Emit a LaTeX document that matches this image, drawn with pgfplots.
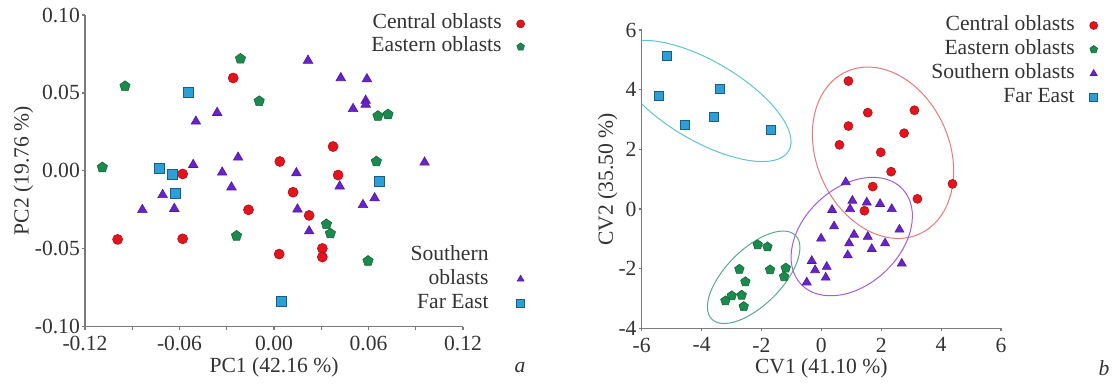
\documentclass[border=0pt]{standalone}
\usepackage{fontspec}
\setmainfont{Liberation Serif}
\usepackage{pgfplots}
\pgfplotsset{compat=1.18}
\definecolor{cred}{HTML}{E5131B}
\definecolor{cgreen}{HTML}{1B8A4D}
\definecolor{cpurple}{HTML}{6A22CF}
\definecolor{cblue}{HTML}{2C9FD8}
\definecolor{ered}{HTML}{E47A7A}
\definecolor{epurple}{HTML}{A35BE0}
\definecolor{ecyan}{HTML}{5EC3D3}
\definecolor{egreen}{HTML}{5AA888}
\definecolor{axgray}{HTML}{7A7A7A}
\definecolor{txt}{HTML}{333333}
\newcommand{\fs}{\fontsize{10.8}{13}\selectfont}
\pgfplotsset{
  myaxis/.style={
    scale only axis, anchor=south west,
    axis x line*=bottom, axis y line*=left,
    axis line style={-, draw=axgray, line width=0.6pt},
    tick align=outside, major tick length=1.6pt, minor tick length=1.6pt,
    every tick/.style={draw=axgray, line width=0.6pt},
    /pgf/number format/assume math mode=true,
    tick label style={font=\fs, text=txt},
    xticklabel style={inner sep=2.9pt},
    yticklabel style={inner sep=0.8pt},
    label style={font=\fs, text=txt, inner sep=0.5pt},
    legend style={draw=none, fill=none, font=\fs, text=txt,
      row sep=0pt, anchor=north east,
      nodes={inner sep=1pt, text height=7.6pt, text depth=2.4pt},
      /tikz/every odd column/.append style={column sep=6.5pt}},
    legend cell align=right,
    legend plot pos=right,
    legend image post style={mark size=2pt},
    enlargelimits=false,
  },
  pred/.style={only marks, mark=*, mark options={fill=cred, draw=cred!75!black, line width=0.3pt}},
  pgreen/.style={only marks, mark=pentagon*, mark options={fill=cgreen, draw=cgreen!75!black, line width=0.3pt}},
  ppurple/.style={only marks, mark=triangle*, mark options={fill=cpurple, draw=cpurple!75!black, line width=0.3pt}},
  pblue/.style={only marks, mark=square*, mark options={fill=cblue, draw=cblue!60!black, line width=0.3pt}},
}
\begin{document}
\begin{tikzpicture}
\useasboundingbox (0,0) rectangle (557pt,192.5pt);
% ---------- panel a ----------
\begin{axis}[myaxis,
  at={(42.5pt,29.15pt)}, width=189pt, height=155.85pt,
  xmin=-0.12, xmax=0.12, ymin=-0.10, ymax=0.10,
  xtick={-0.12,-0.06,0,0.06,0.12},
  minor xtick={-0.09,-0.03,0.03,0.09},
  ytick={-0.10,-0.05,0,0.05,0.10},
  xticklabel style={/pgf/number format/.cd, fixed, fixed zerofill, precision=2},
  yticklabel style={/pgf/number format/.cd, fixed, fixed zerofill, precision=2},
  scaled ticks=false,
  xlabel={PC1 (42.16 \%)},
  ylabel={PC2 (19.76 \%)},
  xlabel style={at={(axis description cs:0.5,-0.1315)}, anchor=center},
  ylabel style={at={(axis description cs:-0.163,0.5)}, anchor=center},
  legend style={at={(axis description cs:1.18,1.0225)},
    nodes={inner sep=1pt, text height=7.3pt, text depth=2.2pt}},
]
\addplot[pred, mark size=2.5pt] table {
-0.0259 0.0596
0.0375 0.0156
0.0037 0.0060
-0.0580 -0.0020
0.0407 -0.0027
0.0121 -0.0137
-0.0162 -0.0250
0.0223 -0.0286
-0.0993 -0.0440
-0.0580 -0.0436
0.0033 -0.0534
0.0307 -0.0498
0.0307 -0.0553
};
\addplot[pgreen, mark size=2.7pt] table {
-0.1090 0.0022
-0.0946 0.0543
-0.0213 0.0719
-0.0094 0.0447
0.0660 0.0352
0.0724 0.0362
0.0650 0.0060
-0.0238 -0.0417
0.0333 -0.0343
0.0358 -0.0402
0.0597 -0.0578
};
\legend{Central oblasts, Eastern oblasts}
\end{axis}
\begin{axis}[myaxis, hide axis,
  at={(42.5pt,29.15pt)}, width=189pt, height=155.85pt,
  xmin=-0.12, xmax=0.12, ymin=-0.10, ymax=0.10,
  legend style={at={(axis description cs:1.18,0.282)}},
]
\addlegendimage{empty legend}
\addplot[ppurple, mark size=2.75pt] table {
0.0216 0.0708
0.0424 0.0596
0.0590 0.0589
0.0582 0.0451
0.0582 0.0426
0.0502 0.0398
-0.0361 0.0373
-0.0496 0.0317
-0.0228 0.0086
0.0956 0.0054
-0.0513 0.0039
-0.0329 -0.0010
0.0142 -0.0014
-0.0270 -0.0105
0.0417 -0.0099
-0.0707 -0.0154
-0.0836 -0.0250
-0.0633 -0.0243
0.0149 -0.0247
0.0565 -0.0218
0.0639 -0.0175
0.0223 -0.0387
};
\addplot[pblue, mark size=2.5pt] table {
-0.0545 0.0506
-0.0731 0.0018
-0.0646 -0.0024
-0.0625 -0.0143
0.0667 -0.0067
0.0047 -0.0838
};
\legend{Southern, oblasts, Far East}
\end{axis}
% ---------- panel b ----------
\begin{axis}[myaxis,
  at={(320.85pt,28.35pt)}, width=179.65pt, height=149.15pt,
  xmin=-6, xmax=6, ymin=-4, ymax=6,
  xtick={-6,-4,...,6}, ytick={-4,-2,...,6},
  xlabel={CV1 (41.10 \%)},
  ylabel={CV2 (35.50 \%)},
  xlabel style={at={(axis description cs:0.5,-0.1334)}, anchor=center},
  ylabel style={at={(axis description cs:-0.0946,0.5)}, anchor=center},
  legend style={at={(axis description cs:1.287,1.070)}},
]
\draw[ecyan, line width=0.5pt, rotate around={-30.4:(axis cs:-3.93,3.62)}] (axis cs:-3.93,3.62) ellipse [x radius=49.3pt, y radius=19.9pt];
\draw[ered, line width=0.5pt, rotate around={-66:(axis cs:2.06,1.885)}] (axis cs:2.06,1.885) ellipse [x radius=44.5pt, y radius=33.2pt];
\draw[epurple, line width=0.5pt, rotate around={43:(axis cs:1.015,-0.925)}] (axis cs:1.015,-0.925) ellipse [x radius=34.8pt, y radius=24.2pt];
\draw[egreen, line width=0.5pt, rotate around={45:(axis cs:-2.26,-2.29)}] (axis cs:-2.26,-2.29) ellipse [x radius=29.6pt, y radius=13.9pt];
\addplot[pred, mark size=2.25pt] table {
0.904 4.29
1.550 3.23
3.109 3.31
0.904 2.78
2.764 2.54
0.604 2.15
1.984 1.90
2.330 1.25
4.379 0.84
1.717 0.75
3.209 0.34
1.439 -0.06
};
\addplot[pgreen, mark size=2.5pt] table {
-2.125 -1.20
-1.802 -1.27
-2.737 -2.02
-1.713 -2.04
-1.189 -1.98
-1.245 -2.27
-2.537 -2.44
-2.993 -2.91
-2.660 -2.89
-3.205 -3.08
-2.592 -3.27
};
\addplot[ppurple, mark size=2.6pt] table {
0.815 0.90
1.038 0.28
1.517 0.22
1.962 0.17
2.352 0.00
0.359 -0.03
0.960 0.00
0.425 -0.58
2.608 -0.69
1.093 -0.86
1.550 -0.93
-0.009 -0.99
0.927 -1.15
2.129 -1.15
1.684 -1.34
0.882 -1.55
-0.320 -1.74
2.686 -1.83
0.180 -1.94
-0.209 -2.05
0.147 -2.30
-0.488 -2.46
};
\addplot[pblue, mark size=2.25pt] table {
-5.165 5.12
-5.443 3.78
-3.383 4.03
-4.552 2.83
-3.606 3.08
-1.690 2.67
};
\legend{Central oblasts, Eastern oblasts, Southern oblasts, Far East}
\end{axis}
\node[font=\fs\itshape, text=txt] at (260pt,8.5pt) {a};
\node[font=\fs\itshape, text=txt] at (552pt,8.5pt) {b};
\end{tikzpicture}
\end{document}
